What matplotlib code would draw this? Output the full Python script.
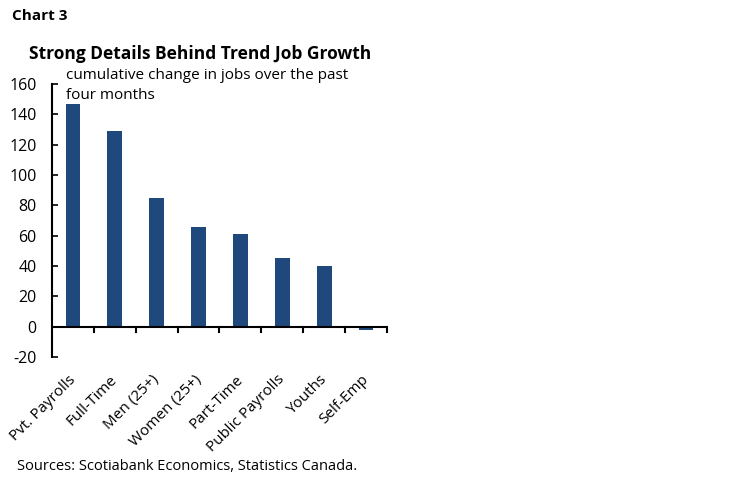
import matplotlib
matplotlib.use("Agg")
import matplotlib.pyplot as plt
import numpy as np

categories = ["Pvt. Payrolls", "Full-Time", "Men (25+)", "Women (25+)",
              "Part-Time", "Public Payrolls", "Youths", "Self-Emp"]
values = [147, 129, 85, 66, 61, 45, 40, -2]
yticks = [-20, 0, 20, 40, 60, 80, 100, 120, 140, 160]

plt.rcParams['font.family'] = ['Open Sans', 'DejaVu Sans']

fig = plt.figure(figsize=(7.48, 4.83), dpi=100)
ax = fig.add_axes([52/748, 1-357/483, 335/748, (357-84)/483])

x = np.arange(len(categories))
ax.bar(x, values, width=0.35, color="#1F497D", zorder=2)

ax.set_xlim(-0.5, len(categories) - 0.5)
ax.set_ylim(-20, 160)
ax.set_yticks(yticks)
ax.set_yticklabels([str(v) for v in yticks], fontsize=11.5)
ax.tick_params(axis='y', direction='in', length=4, width=1.2, pad=11, colors='black')

for s in ['top', 'right', 'bottom']:
    ax.spines[s].set_visible(False)
ax.spines['left'].set_linewidth(1.5)

# x axis at zero
ax.axhline(0, color='black', lw=1.5, zorder=3)
ax.set_xticks([])
for b in np.arange(0.5, len(categories), 1.0):
    ax.plot([b, b], [0, -3.3], color='black', lw=1.5, clip_on=False, zorder=3)

for i, c in enumerate(categories):
    ax.annotate(c, xy=(i - 0.12, -20), xycoords='data', xytext=(0, -11),
                textcoords='offset points', rotation=45, ha='right', va='top',
                rotation_mode='anchor', fontsize=11)

fig.text(12/748, 1-16/483, "Chart 3", fontsize=11, fontweight='bold', va='center', ha='left')
fig.text(200/748, 1-54/483, "Strong Details Behind Trend Job Growth", fontsize=12.5,
         fontweight='bold', va='center', ha='center')
fig.text(66/748, 1-68/483, "cumulative change in jobs over the past\nfour months",
         fontsize=11, va='top', ha='left', linespacing=1.45)
fig.text(17/748, 1-467/483, "Sources: Scotiabank Economics, Statistics Canada.",
         fontsize=10.5, va='center', ha='left')

fig.savefig("out.png", dpi=100)
